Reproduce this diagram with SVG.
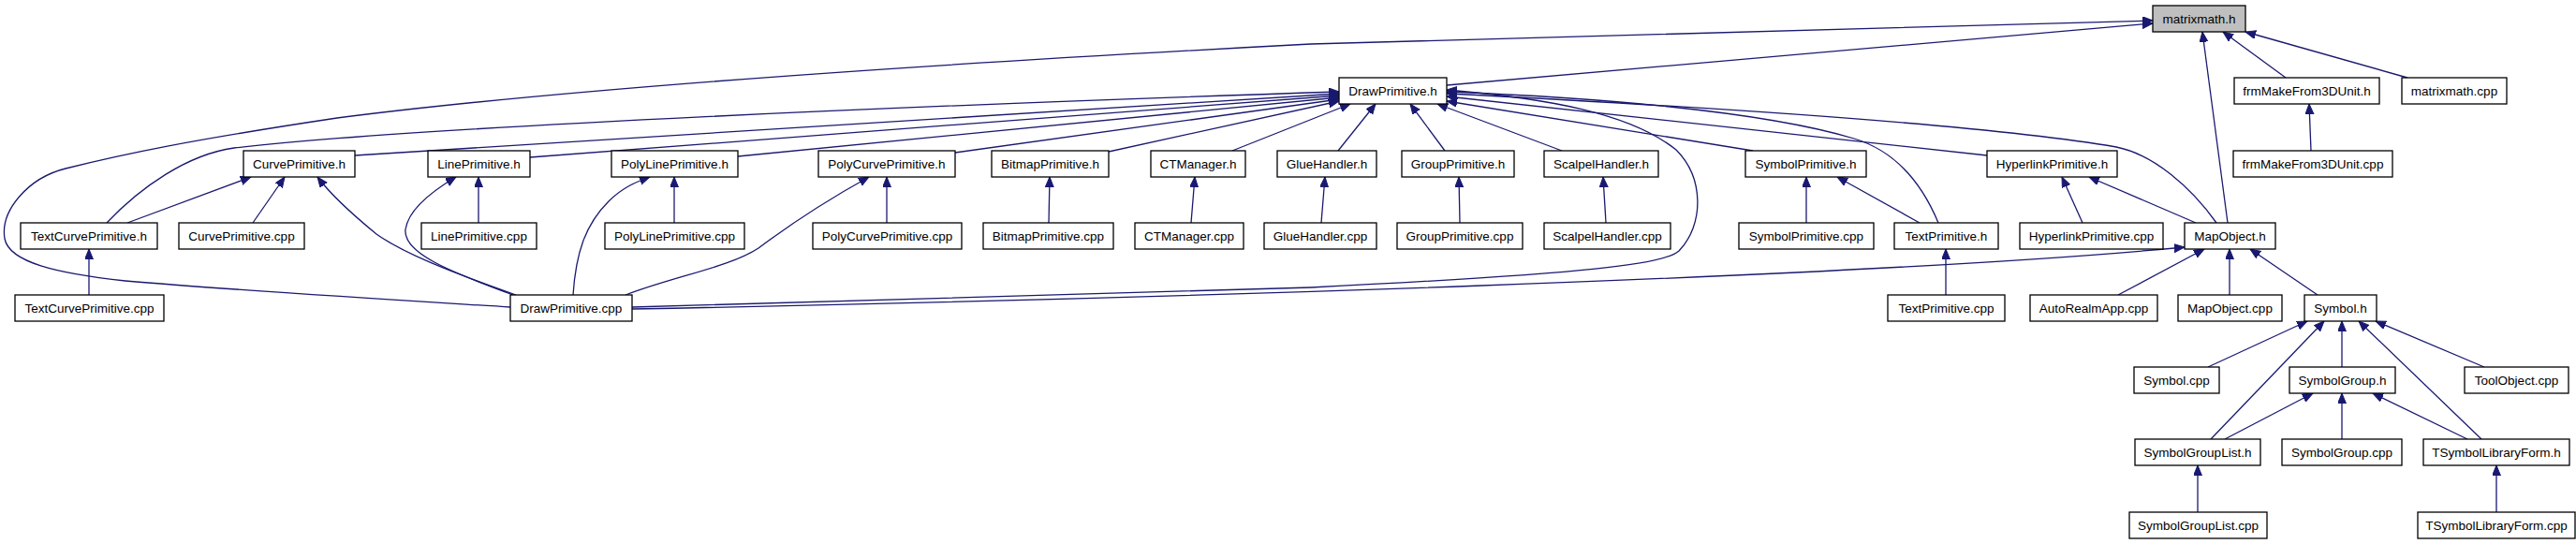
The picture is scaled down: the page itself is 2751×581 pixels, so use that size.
<svg xmlns="http://www.w3.org/2000/svg" width="2751" height="581" viewBox="0 0 2751 581">
<style>
.n rect{fill:#fff;stroke:#000;stroke-width:1.3}
.n text{font-family:"Liberation Sans",Arial,sans-serif;font-size:13.5px;fill:#000;text-anchor:middle}
#n_matrixmath_h rect{fill:#bfbfbf}
.e path{fill:none;stroke:#191970;stroke-width:1.3;marker-end:url(#ah)}
</style>
<defs>
<marker id="ah" markerUnits="userSpaceOnUse" markerWidth="12" markerHeight="10" refX="11" refY="4.5" orient="auto">
<path d="M0,0 L11,4.5 L0,9 z" fill="#191970" stroke="#191970" stroke-width="1"/>
</marker>
</defs>
<rect width="2751" height="581" fill="#fff"/>
<g class="e" id="edges">
<path d="M1545,91 L2299,25"/>
<path d="M545,328 C450,322 250,310 134,300 C60,292 10,280 5,255 C0,225 30,190 70,180 C130,165 200,150 360,126 C600,95 1000,68 1400,47 L2299,22"/>
<path d="M114,238 C150,200 200,165 250,158 C450,135 1000,112 1430,98"/>
<path d="M379,166 L1430,100"/>
<path d="M566,168 L1430,102"/>
<path d="M788,167 L1430,104"/>
<path d="M1020,163 L1430,106"/>
<path d="M1184,162 L1430,108"/>
<path d="M1316,161 L1442,111"/>
<path d="M1429,161 L1469,111"/>
<path d="M1543,161 L1506,111"/>
<path d="M1668,161 L1535,111"/>
<path d="M1872,161 L1545,108"/>
<path d="M2122,166 L1545,103"/>
<path d="M2367,238 C2340,200 2300,165 2260,157 C2150,138 1900,118 1545,100"/>
<path d="M2070,238 C2050,190 2020,160 1980,148 C1880,118 1700,104 1545,98"/>
<path d="M675,328 L1400,307 C1700,292 1778,282 1793,268 C1820,240 1820,190 1790,160 C1740,120 1650,105 1545,96"/>
<path d="M675,330 C1200,320 2000,296 2333,264"/>
<path d="M136,238 L268,189"/>
<path d="M270,238 L304,189"/>
<path d="M551,315 C480,290 430,270 402,250 C380,232 355,210 339,189"/>
<path d="M548,315 C480,290 430,270 433,245 C436,225 460,205 487,189"/>
<path d="M511,238 L511,189"/>
<path d="M612,315 C615,270 625,240 650,215 C665,200 680,194 694,189"/>
<path d="M720,238 L720,189"/>
<path d="M668,315 C720,295 780,285 810,265 C850,235 890,210 928,189"/>
<path d="M947,238 L947,189"/>
<path d="M1120,238 L1121,189"/>
<path d="M1272,238 L1276,189"/>
<path d="M1411,238 L1415,189"/>
<path d="M1559,238 L1558,189"/>
<path d="M1715,238 L1712,189"/>
<path d="M1929,238 L1929,189"/>
<path d="M2050,238 L1962,189"/>
<path d="M2078,315 L2078,266"/>
<path d="M2224,238 L2202,189"/>
<path d="M2345,238 L2231,189"/>
<path d="M2379,238 L2352,34"/>
<path d="M2441,83 L2374,34"/>
<path d="M2571,83 L2398,34"/>
<path d="M2468,161 L2466,111"/>
<path d="M2262,315 L2354,266"/>
<path d="M2381,315 L2381,266"/>
<path d="M2475,315 L2403,266"/>
<path d="M2358,392 L2464,343"/>
<path d="M2361,469 L2482,343"/>
<path d="M2501,392 L2501,343"/>
<path d="M2650,469 L2519,343"/>
<path d="M2653,392 L2537,343"/>
<path d="M2376,469 L2470,420"/>
<path d="M2501,469 L2501,420"/>
<path d="M2635,469 L2534,420"/>
<path d="M2347,547 L2347,497"/>
<path d="M2666,547 L2666,497"/>
<path d="M95,315 L95,266"/>
</g>
<g class="n" id="n_matrixmath_h"><rect x="2299" y="6" width="99" height="28"/><text x="2348.5" y="25">matrixmath.h</text></g>
<g class="n" id="n_DrawPrimitive_h"><rect x="1430" y="83" width="115" height="28"/><text x="1487.5" y="102">DrawPrimitive.h</text></g>
<g class="n" id="n_frmMakeFrom3DUnit_h"><rect x="2386" y="83" width="155" height="28"/><text x="2463.5" y="102">frmMakeFrom3DUnit.h</text></g>
<g class="n" id="n_matrixmath_cpp"><rect x="2565" y="83" width="112" height="28"/><text x="2621" y="102">matrixmath.cpp</text></g>
<g class="n" id="n_CurvePrimitive_h"><rect x="260" y="161" width="119" height="28"/><text x="319.5" y="180">CurvePrimitive.h</text></g>
<g class="n" id="n_LinePrimitive_h"><rect x="457" y="161" width="109" height="28"/><text x="511.5" y="180">LinePrimitive.h</text></g>
<g class="n" id="n_PolyLinePrimitive_h"><rect x="653" y="161" width="135" height="28"/><text x="720.5" y="180">PolyLinePrimitive.h</text></g>
<g class="n" id="n_PolyCurvePrimitive_h"><rect x="874" y="161" width="146" height="28"/><text x="947" y="180">PolyCurvePrimitive.h</text></g>
<g class="n" id="n_BitmapPrimitive_h"><rect x="1059" y="161" width="125" height="28"/><text x="1121.5" y="180">BitmapPrimitive.h</text></g>
<g class="n" id="n_CTManager_h"><rect x="1229" y="161" width="101" height="28"/><text x="1279.5" y="180">CTManager.h</text></g>
<g class="n" id="n_GlueHandler_h"><rect x="1364" y="161" width="106" height="28"/><text x="1417" y="180">GlueHandler.h</text></g>
<g class="n" id="n_GroupPrimitive_h"><rect x="1497" y="161" width="120" height="28"/><text x="1557" y="180">GroupPrimitive.h</text></g>
<g class="n" id="n_ScalpelHandler_h"><rect x="1649" y="161" width="122" height="28"/><text x="1710" y="180">ScalpelHandler.h</text></g>
<g class="n" id="n_SymbolPrimitive_h"><rect x="1864" y="161" width="129" height="28"/><text x="1928.5" y="180">SymbolPrimitive.h</text></g>
<g class="n" id="n_HyperlinkPrimitive_h"><rect x="2122" y="161" width="139" height="28"/><text x="2191.5" y="180">HyperlinkPrimitive.h</text></g>
<g class="n" id="n_frmMakeFrom3DUnit_cpp"><rect x="2385" y="161" width="170" height="28"/><text x="2470" y="180">frmMakeFrom3DUnit.cpp</text></g>
<g class="n" id="n_TextCurvePrimitive_h"><rect x="22" y="238" width="146" height="28"/><text x="95" y="257">TextCurvePrimitive.h</text></g>
<g class="n" id="n_CurvePrimitive_cpp"><rect x="191" y="238" width="134" height="28"/><text x="258" y="257">CurvePrimitive.cpp</text></g>
<g class="n" id="n_LinePrimitive_cpp"><rect x="450" y="238" width="123" height="28"/><text x="511.5" y="257">LinePrimitive.cpp</text></g>
<g class="n" id="n_PolyLinePrimitive_cpp"><rect x="646" y="238" width="149" height="28"/><text x="720.5" y="257">PolyLinePrimitive.cpp</text></g>
<g class="n" id="n_PolyCurvePrimitive_cpp"><rect x="868" y="238" width="159" height="28"/><text x="947.5" y="257">PolyCurvePrimitive.cpp</text></g>
<g class="n" id="n_BitmapPrimitive_cpp"><rect x="1050" y="238" width="139" height="28"/><text x="1119.5" y="257">BitmapPrimitive.cpp</text></g>
<g class="n" id="n_CTManager_cpp"><rect x="1212" y="238" width="116" height="28"/><text x="1270" y="257">CTManager.cpp</text></g>
<g class="n" id="n_GlueHandler_cpp"><rect x="1350" y="238" width="120" height="28"/><text x="1410" y="257">GlueHandler.cpp</text></g>
<g class="n" id="n_GroupPrimitive_cpp"><rect x="1492" y="238" width="134" height="28"/><text x="1559" y="257">GroupPrimitive.cpp</text></g>
<g class="n" id="n_ScalpelHandler_cpp"><rect x="1649" y="238" width="135" height="28"/><text x="1716.5" y="257">ScalpelHandler.cpp</text></g>
<g class="n" id="n_SymbolPrimitive_cpp"><rect x="1857" y="238" width="144" height="28"/><text x="1929" y="257">SymbolPrimitive.cpp</text></g>
<g class="n" id="n_TextPrimitive_h"><rect x="2023" y="238" width="111" height="28"/><text x="2078.5" y="257">TextPrimitive.h</text></g>
<g class="n" id="n_HyperlinkPrimitive_cpp"><rect x="2157" y="238" width="153" height="28"/><text x="2233.5" y="257">HyperlinkPrimitive.cpp</text></g>
<g class="n" id="n_MapObject_h"><rect x="2333" y="238" width="97" height="28"/><text x="2381.5" y="257">MapObject.h</text></g>
<g class="n" id="n_TextCurvePrimitive_cpp"><rect x="16" y="315" width="159" height="28"/><text x="95.5" y="334">TextCurvePrimitive.cpp</text></g>
<g class="n" id="n_DrawPrimitive_cpp"><rect x="545" y="315" width="130" height="28"/><text x="610" y="334">DrawPrimitive.cpp</text></g>
<g class="n" id="n_TextPrimitive_cpp"><rect x="2016" y="315" width="125" height="28"/><text x="2078.5" y="334">TextPrimitive.cpp</text></g>
<g class="n" id="n_AutoRealmApp_cpp"><rect x="2168" y="315" width="136" height="28"/><text x="2236" y="334">AutoRealmApp.cpp</text></g>
<g class="n" id="n_MapObject_cpp"><rect x="2326" y="315" width="111" height="28"/><text x="2381.5" y="334">MapObject.cpp</text></g>
<g class="n" id="n_Symbol_h"><rect x="2461" y="315" width="77" height="28"/><text x="2499.5" y="334">Symbol.h</text></g>
<g class="n" id="n_Symbol_cpp"><rect x="2279" y="392" width="91" height="28"/><text x="2324.5" y="411">Symbol.cpp</text></g>
<g class="n" id="n_SymbolGroup_h"><rect x="2445" y="392" width="113" height="28"/><text x="2501.5" y="411">SymbolGroup.h</text></g>
<g class="n" id="n_ToolObject_cpp"><rect x="2632" y="392" width="111" height="28"/><text x="2687.5" y="411">ToolObject.cpp</text></g>
<g class="n" id="n_SymbolGroupList_h"><rect x="2280" y="469" width="134" height="28"/><text x="2347" y="488">SymbolGroupList.h</text></g>
<g class="n" id="n_SymbolGroup_cpp"><rect x="2437" y="469" width="128" height="28"/><text x="2501" y="488">SymbolGroup.cpp</text></g>
<g class="n" id="n_TSymbolLibraryForm_h"><rect x="2588" y="469" width="156" height="28"/><text x="2666" y="488">TSymbolLibraryForm.h</text></g>
<g class="n" id="n_SymbolGroupList_cpp"><rect x="2274" y="547" width="147" height="28"/><text x="2347.5" y="566">SymbolGroupList.cpp</text></g>
<g class="n" id="n_TSymbolLibraryForm_cpp"><rect x="2582" y="547" width="168" height="28"/><text x="2666" y="566">TSymbolLibraryForm.cpp</text></g>
</svg>
